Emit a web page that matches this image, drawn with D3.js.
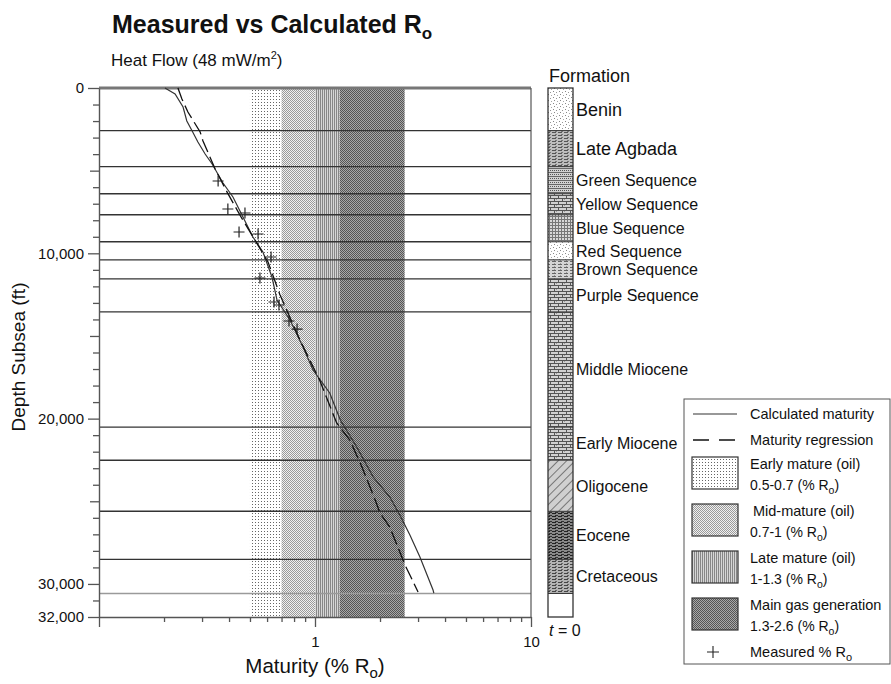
<!DOCTYPE html>
<html>
<head>
<meta charset="utf-8">
<script src="https://cdn.jsdelivr.net/npm/d3@7"></script>
<style>
  body { margin: 0; background: #fff; }
  text { font-family: "Liberation Sans", Arial, sans-serif; fill: #111; }
</style>
</head>
<body>
<svg id="chart" width="891" height="684"></svg>
<script>
// formations (base depth in ft subsea)
const formationNames = ["Benin", "Late Agbada", "Green Sequence", "Yellow Sequence", "Blue Sequence",
  "Red Sequence", "Brown Sequence", "Purple Sequence", "Middle Miocene", "Early Miocene",
  "Oligocene", "Eocene", "Cretaceous"];
const formationBase = [2576, 4758, 6394, 7667, 9303, 10394, 11545, 13545, 20515, 22515, 25606, 28515, 30576];

// maturity windows (% Ro)
const windowNames = ["Early mature (oil)", "Mid-mature (oil)", "Late mature (oil)", "Main gas generation"];
const windowLow = [0.5, 0.7, 1, 1.3];
const windowHigh = [0.7, 1, 1.3, 2.6];
const windowRangeText = ["0.5-0.7", "0.7-1", "1-1.3", "1.3-2.6"];

// calculated maturity curve
const calcRo = [0.202, 0.225, 0.245, 0.255, 0.270, 0.287, 0.310, 0.334, 0.375, 0.417, 0.464, 0.516, 0.574,
  0.632, 0.667, 0.766, 0.880, 0.979, 1.17, 1.31, 1.56, 1.86, 2.22, 2.47, 2.75, 3.06, 3.52, 3.55];
const calcDepth = [0, 363, 1149, 1996, 2601, 3267, 3993, 4598, 5747, 6594, 7804, 9014, 9921,
  11434, 12825, 14035, 15668, 17060, 18451, 20085, 21718, 23533, 24743, 25832, 27042, 28373, 30369, 30551];

// maturity regression
const regRo = [0.232, 0.242, 0.258, 0.294, 0.303, 0.345, 0.387, 0.449, 0.527, 0.606, 0.689, 0.852, 1.05,
  1.26, 1.45, 1.65, 1.90, 2.00, 2.22, 2.48, 2.61, 2.75, 3.00];
const regDepth = [0, 665, 1452, 2662, 3206, 4900, 6171, 7683, 9195, 10526, 12523, 15245, 17665,
  20266, 21295, 22928, 24924, 25711, 26558, 28131, 28857, 29462, 30490];

// measured vitrinite reflectance
const measRo = [0.356, 0.395, 0.474, 0.445, 0.545, 0.626, 0.556, 0.646, 0.681, 0.758, 0.826];
const measDepth = [5626, 7320, 7562, 8711, 8832, 10224, 11494, 12946, 13128, 14095, 14580];

// axis labels
const depthLabels = [0, 10000, 20000, 30000, 32000];
const roLabels = [1, 10];

const svg = d3.select("#chart");
const x = d3.scaleLog().domain([0.1, 10]).range([99, 531]);
const y = d3.scaleLinear().domain([0, 32000]).range([88, 617]);
const defs = svg.append("defs");

function addPattern(id, w, h, bg, marks, transform) {
  const p = defs.append("pattern")
    .attr("id", id)
    .attr("patternUnits", "userSpaceOnUse")
    .attr("width", w)
    .attr("height", h);
  if (transform) p.attr("patternTransform", transform);
  p.append("rect").attr("width", w).attr("height", h).attr("fill", bg);
  marks.forEach(m => p.append("rect")
    .attr("x", m[0]).attr("y", m[1]).attr("width", m[2]).attr("height", m[3]).attr("fill", m[4]));
}

// maturity window fills
addPattern("early", 3, 3, "#fff", [[0, 0, 1, 1, "#666"]]);
addPattern("mid", 2, 2, "#f0f0f0", [[0, 0, 1, 1, "#9a9a9a"], [1, 1, 1, 1, "#9a9a9a"]]);
addPattern("late", 2, 2, "#d6d6d6", [[0, 0, 1, 2, "#878787"]]);
addPattern("gas", 2, 2, "#a8a8a8", [[0, 0, 1, 1, "#555"], [1, 1, 1, 1, "#555"]]);

// lithology fills
addPattern("sand", 6, 6, "#fff", [[1, 1, 1, 1, "#888"], [4, 2, 1, 1, "#999"], [2, 4, 1, 1, "#888"], [5, 5, 1, 1, "#aaa"]]);
addPattern("shale", 6, 3, "#bdbdbd", [[0, 0, 4, 1, "#555"], [3, 2, 2, 1, "#777"]]);
addPattern("grid", 4, 4, "#d0d0d0", [[0, 0, 4, 1, "#666"], [0, 2, 1, 1, "#555"], [2, 2, 1, 1, "#555"]]);
addPattern("brick", 8, 6, "#d2d2d2", [[0, 0, 8, 1, "#555"], [0, 3, 8, 1, "#555"], [2, 1, 1, 2, "#555"], [6, 4, 1, 2, "#555"], [4, 1, 1, 1, "#999"]]);
addPattern("net", 3, 3, "#d8d8d8", [[0, 0, 3, 1, "#777"], [0, 0, 1, 3, "#777"]]);
addPattern("dash", 6, 3, "#d4d4d4", [[0, 0, 4, 1, "#666"], [2, 2, 1, 1, "#999"]]);
addPattern("hatch", 6, 6, "#d0d0d0", [[0, 0, 1, 6, "#777"]], "rotate(45)");
addPattern("darkdash", 6, 3, "#8a8a8a", [[0, 0, 4, 1, "#222"], [3, 2, 3, 1, "#333"]]);
addPattern("greydash", 6, 3, "#b4b4b4", [[0, 0, 4, 1, "#444"], [3, 2, 2, 1, "#666"]]);

const formationFill = ["sand", "shale", "grid", "brick", "net", "sand", "dash", "brick", "brick",
  "brick", "hatch", "darkdash", "greydash"];

// title
svg.append("text").attr("x", 112).attr("y", 33)
  .style("font-size", "25px").style("font-weight", "bold")
  .call(t => {
    t.append("tspan").text("Measured vs Calculated R");
    t.append("tspan").attr("dy", 6).style("font-size", "17px").text("o");
  });
svg.append("text").attr("x", 111).attr("y", 66).style("font-size", "17px")
  .call(t => {
    t.append("tspan").text("Heat Flow (48 mW/m");
    t.append("tspan").attr("dy", -7).style("font-size", "11px").text("2");
    t.append("tspan").attr("dy", 7).text(")");
  });

// maturity windows
const bands = d3.range(windowNames.length);
const bandIds = ["early", "mid", "late", "gas"];
svg.append("g").selectAll("rect").data(bands).join("rect")
  .attr("x", i => x(windowLow[i]))
  .attr("y", y(0))
  .attr("width", i => x(windowHigh[i]) - x(windowLow[i]))
  .attr("height", y(32000) - y(0))
  .attr("fill", i => `url(#${bandIds[i]})`);

// formation boundaries across plot
svg.append("g").selectAll("line").data(formationBase).join("line")
  .attr("x1", x(0.1)).attr("x2", x(10))
  .attr("y1", d => y(d)).attr("y2", d => y(d))
  .attr("stroke", (d, i) => i === formationBase.length - 1 ? "#9a9a9a" : "#333")
  .attr("stroke-width", 1.4);

// frame
svg.append("line").attr("x1", x(0.1)).attr("x2", x(10)).attr("y1", y(0)).attr("y2", y(0))
  .attr("stroke", "#777").attr("stroke-width", 3);
svg.append("line").attr("x1", x(10)).attr("x2", x(10)).attr("y1", y(0)).attr("y2", y(32000))
  .attr("stroke", "#555").attr("stroke-width", 1.2);

// axes
const yAxis = svg.append("g").attr("transform", `translate(${x(0.1)},0)`)
  .call(d3.axisLeft(y).tickValues(d3.range(0, 32001, 1000)).tickSizeOuter(0)
    .tickFormat(d => depthLabels.includes(d) ? d3.format(",")(d) : ""));
yAxis.select(".domain").attr("stroke", "#555").attr("stroke-width", 1.4);
yAxis.selectAll(".tick line").attr("stroke", "#555").attr("stroke-width", 1.3)
  .attr("x2", d => depthLabels.includes(d) ? -11 : d % 5000 === 0 ? -9 : -6);
yAxis.selectAll(".tick text").attr("x", -15).style("font-size", "15px")
  .style("font-family", "'Liberation Sans', Arial, sans-serif").attr("fill", "#111");

const xAxis = svg.append("g").attr("transform", `translate(0,${y(32000)})`)
  .call(d3.axisBottom(x).tickValues(x.ticks()).tickSizeOuter(0)
    .tickFormat(d => roLabels.includes(d) ? d : ""));
xAxis.select(".domain").attr("stroke", "#555").attr("stroke-width", 1.4);
xAxis.selectAll(".tick line").attr("stroke", "#555").attr("stroke-width", 1.3)
  .attr("y2", d => roLabels.includes(d) || d === 0.1 ? 10 : 5);
xAxis.selectAll(".tick text").attr("y", 19).style("font-size", "15px")
  .style("font-family", "'Liberation Sans', Arial, sans-serif").attr("fill", "#111");

svg.append("text").attr("transform", "translate(25,357) rotate(-90)")
  .attr("text-anchor", "middle").style("font-size", "19px").text("Depth Subsea (ft)");
svg.append("text").attr("x", 315).attr("y", 673).attr("text-anchor", "middle").style("font-size", "20.5px")
  .call(t => {
    t.append("tspan").text("Maturity (% R");
    t.append("tspan").attr("dy", 5).style("font-size", "15px").text("o");
    t.append("tspan").attr("dy", -5).text(")");
  });

// curves
const line = d3.line().x(d => x(d[0])).y(d => y(d[1]));
svg.append("path").datum(d3.zip(calcRo, calcDepth)).attr("d", line)
  .attr("fill", "none").attr("stroke", "#333").attr("stroke-width", 1.2);
svg.append("path").datum(d3.zip(regRo, regDepth)).attr("d", line)
  .attr("fill", "none").attr("stroke", "#111").attr("stroke-width", 1.3).attr("stroke-dasharray", "14,5");

svg.append("g").selectAll("path").data(d3.zip(measRo, measDepth)).join("path")
  .attr("transform", d => `translate(${x(d[0])},${y(d[1])})`)
  .attr("d", "M-5.5,0H5.5M0,-5.5V5.5").attr("stroke", "#222").attr("stroke-width", 1.2);

// formation column
const colX = 548, colW = 25;
svg.append("text").attr("x", 549).attr("y", 82).style("font-size", "18px").text("Formation");
const tops = [0].concat(formationBase.slice(0, -1));
const col = svg.append("g");
col.selectAll("rect").data(formationNames).join("rect")
  .attr("x", colX).attr("width", colW)
  .attr("y", (d, i) => y(tops[i]))
  .attr("height", (d, i) => y(formationBase[i]) - y(tops[i]))
  .attr("fill", (d, i) => `url(#${formationFill[i]})`);
col.selectAll("line").data(formationBase).join("line")
  .attr("x1", colX).attr("x2", colX + colW)
  .attr("y1", d => y(d)).attr("y2", d => y(d))
  .attr("stroke", "#333").attr("stroke-width", 1);
col.append("rect").attr("x", colX).attr("y", y(0)).attr("width", colW).attr("height", y(32000) - y(0))
  .attr("fill", "none").attr("stroke", "#333").attr("stroke-width", 1.3);
col.selectAll("text").data(formationNames).join("text")
  .attr("x", 576)
  .attr("y", (d, i) => (y(tops[i]) + y(formationBase[i])) / 2)
  .attr("dy", "0.36em")
  .style("font-size", (d, i) => i < 2 ? "18px" : "16px")
  .text(d => d);
svg.append("text").attr("x", 549).attr("y", 636).style("font-size", "16px")
  .call(t => {
    t.append("tspan").style("font-style", "italic").text("t");
    t.append("tspan").text(" = 0");
  });

// legend
const lg = svg.append("g");
lg.append("rect").attr("x", 684).attr("y", 399).attr("width", 206).attr("height", 265)
  .attr("fill", "#fff").attr("stroke", "#555");
lg.append("line").attr("x1", 693).attr("x2", 737).attr("y1", 414).attr("y2", 414)
  .attr("stroke", "#333").attr("stroke-width", 1.2);
lg.append("line").attr("x1", 693).attr("x2", 737).attr("y1", 440).attr("y2", 440)
  .attr("stroke", "#111").attr("stroke-width", 1.3).attr("stroke-dasharray", "16,10");
lg.append("text").attr("x", 750).attr("y", 419).style("font-size", "14.5px").text("Calculated maturity");
lg.append("text").attr("x", 750).attr("y", 445).style("font-size", "14.5px").text("Maturity regression");

const swatchTop = i => 457 + i * 47;
lg.selectAll(".sw").data(bands).join("rect").attr("class", "sw")
  .attr("x", 692).attr("y", swatchTop).attr("width", 46).attr("height", 32)
  .attr("fill", i => `url(#${bandIds[i]})`).attr("stroke", "#333").attr("stroke-width", 1.2);
lg.selectAll(".wn").data(bands).join("text").attr("class", "wn")
  .attr("x", i => i === 1 ? 753 : 750).attr("y", i => swatchTop(i) + 12)
  .style("font-size", "14.5px").text(i => windowNames[i]);
lg.selectAll(".wr").data(bands).join("text").attr("class", "wr")
  .attr("x", 750).attr("y", i => swatchTop(i) + 33)
  .style("font-size", "14px")
  .each(function (i) {
    const t = d3.select(this);
    t.append("tspan").text(windowRangeText[i] + " (% R");
    t.append("tspan").attr("dy", 4).style("font-size", "10.5px").text("o");
    t.append("tspan").attr("dy", -4).text(")");
  });
lg.append("path").attr("transform", "translate(713,652)").attr("d", "M-6,0H6M0,-6V6")
  .attr("stroke", "#222").attr("stroke-width", 1.1);
lg.append("text").attr("x", 750).attr("y", 657).style("font-size", "14.5px")
  .call(t => {
    t.append("tspan").text("Measured % R");
    t.append("tspan").attr("dy", 4).style("font-size", "11px").text("o");
  });
</script>
</body>
</html>
